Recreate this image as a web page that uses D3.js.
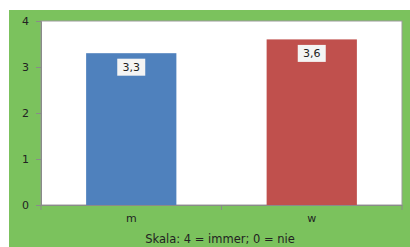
<!DOCTYPE html>
<html><head><meta charset="utf-8">
<script src="https://cdn.jsdelivr.net/npm/d3@7"></script>
<style>html,body{margin:0;padding:0;background:#fff;}svg{display:block;}</style>
</head><body>
<svg id="c" width="410" height="247"></svg>
<script>
const categories = ["m", "w"];
const values = [3.3, 3.6];
const valueLabels = ["3,3", "3,6"];
const yTicks = [0, 1, 2, 3, 4];
const colors = ["#4f81bd", "#c0504d"];
const subtitle = "Skala: 4 = immer; 0 = nie";

const svg = d3.select("#c");
const font = "Verdana, 'DejaVu Sans', sans-serif";
svg.append("rect").attr("x", 9).attr("y", 10).attr("width", 401).attr("height", 237).attr("fill", "#7bc25d");

const L = 41, R = 402, T = 21, B = 205;
svg.append("rect").attr("x", L).attr("y", T).attr("width", R - L).attr("height", B - T)
  .attr("fill", "#fff").attr("stroke", "#9a9a9a").attr("stroke-width", 1);

const x = d3.scaleBand().domain(categories).range([L, R]).paddingInner(0.5).paddingOuter(0.25);
const y = d3.scaleLinear().domain([0, 4]).range([B, T]);

svg.selectAll("rect.bar").data(values).enter().append("rect").attr("class", "bar")
  .attr("x", (d, i) => x(categories[i])).attr("width", x.bandwidth())
  .attr("y", d => y(d)).attr("height", d => y(0) - y(d))
  .attr("fill", (d, i) => colors[i]);

const yAxis = svg.append("g").attr("transform", `translate(${L},0)`)
  .call(d3.axisLeft(y).tickValues(yTicks).tickSize(5).tickPadding(7).tickFormat(d3.format("d")));
yAxis.select(".domain").attr("stroke", "#8a8a8a");
yAxis.selectAll(".tick line").attr("stroke", "#8a8a8a");
yAxis.selectAll("text").attr("font-family", font).attr("font-size", 11).attr("fill", "#222");

const xAxis = svg.append("g").attr("transform", `translate(0,${B})`)
  .call(d3.axisBottom(x).tickSize(0).tickPadding(9));
xAxis.select(".domain").attr("stroke", "#8a8a8a");
xAxis.selectAll("text").attr("font-family", font).attr("font-size", 11).attr("fill", "#222");
// category separators ticks
const seps = [L, (L + R) / 2, R];
svg.selectAll("line.sep").data(seps).enter().append("line")
  .attr("x1", d => d).attr("x2", d => d).attr("y1", B).attr("y2", B + 5).attr("stroke", "#8a8a8a");

const lbl = svg.selectAll("g.lbl").data(values).enter().append("g")
  .attr("transform", (d, i) => `translate(${x(categories[i]) + x.bandwidth() / 2},${y(d) + 14})`);
lbl.append("rect").attr("x", -14).attr("y", -8.5).attr("width", 28).attr("height", 17).attr("fill", "#f4f4f4");
lbl.append("text").attr("text-anchor", "middle").attr("dy", "0.36em")
  .attr("font-family", font).attr("font-size", 11).attr("fill", "#222")
  .text((d, i) => valueLabels[i]);

svg.append("text").attr("x", 220).attr("y", 243).attr("text-anchor", "middle")
  .attr("font-family", font).attr("font-size", 11.5).attr("fill", "#222").text(subtitle);
</script>
</body></html>
